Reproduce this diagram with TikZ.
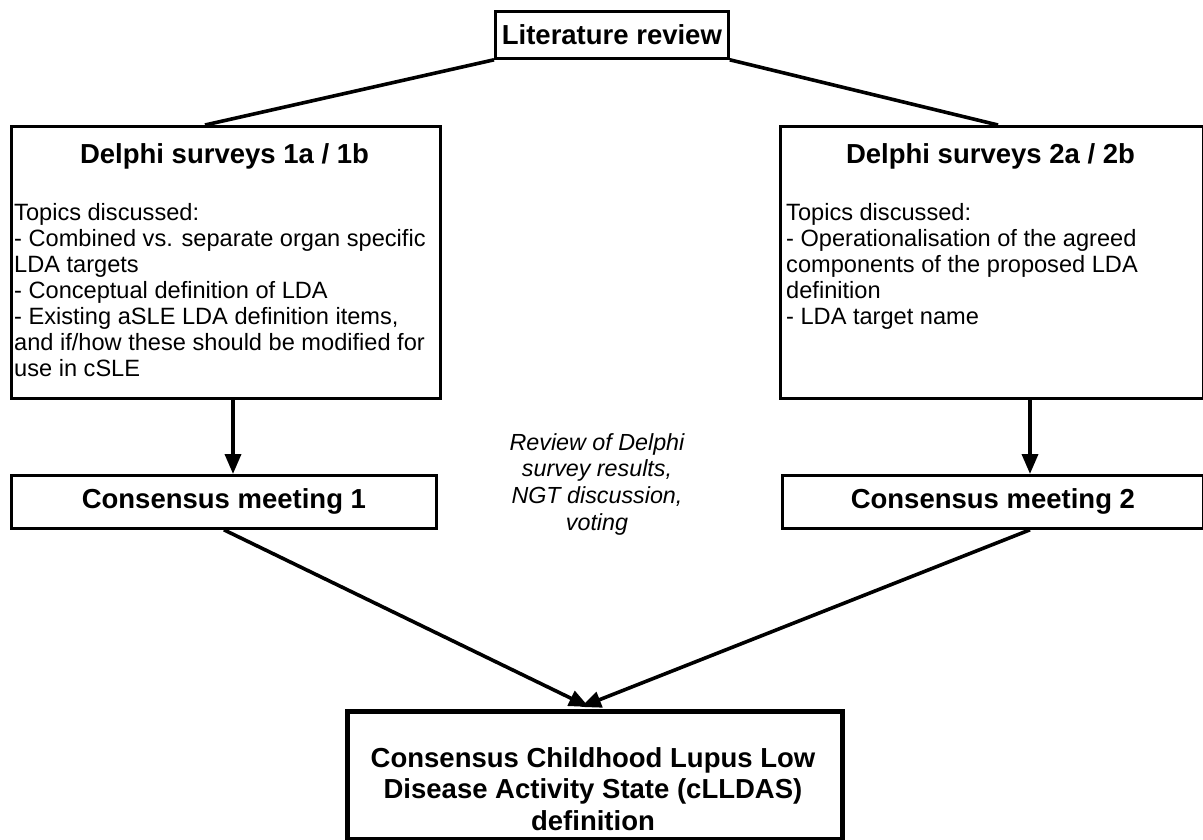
\documentclass[tikz,border=0pt]{standalone}
\usepackage{fontspec}
\setmainfont{Liberation Sans}
\usetikzlibrary{arrows.meta}
\tikzset{
  box/.style={draw, line width=2.8pt, inner sep=0pt},
  bigbox/.style={draw, line width=5pt, inner sep=0pt},
  titletext/.style={font=\fontsize{27.5}{31.8}\selectfont\bfseries, inner sep=0pt},
  bodytext/.style={font=\fontsize{23.6}{26.1}\selectfont, align=left, inner sep=0pt},
  notetext/.style={font=\fontsize{23.3}{26.7}\selectfont\itshape, align=center, inner sep=0pt},
  conn/.style={line width=3.6pt},
  arr/.style={line width=3.6pt, -{Triangle[width=16pt,length=20pt]}}
}
\begin{document}
\begin{tikzpicture}[x=1pt,y=-1pt]
\useasboundingbox (0,0) rectangle (1203,839);
% boxes
\node[box, titletext, minimum width=233, minimum height=47, anchor=north west] (lit) at (494,10) {Literature review};
\node[box, minimum width=429, minimum height=272, anchor=north west] (d1) at (10,125) {};
\node[box, minimum width=423, minimum height=272, anchor=north west] (d2) at (779,125) {};
\node[box, titletext, minimum width=425, minimum height=53, anchor=north west] (cm1) at (10,474) {Consensus meeting 1};
\node[box, titletext, minimum width=421, minimum height=53, anchor=north west] (cm2) at (781,474) {Consensus meeting 2};
\node[bigbox, minimum width=495, minimum height=128, anchor=north west] (fin) at (345,709) {};
% texts
\node[titletext, anchor=base] (d1t) at (224.5,163) {Delphi surveys 1a / 1b};
\node[titletext, anchor=base] (d2t) at (990.5,163) {Delphi surveys 2a / 2b};
\node[bodytext, anchor=north west] (d1b) at (14,203) {Topics discussed:\\
- Combined vs. separate organ specific\\
LDA targets\\
- Conceptual definition of LDA\\
- Existing aSLE LDA definition items,\\
and if/how these should be modified for\\
use in cSLE};
\node[bodytext, anchor=north west] (d2b) at (786,203) {Topics discussed:\\
- Operationalisation of the agreed\\
components of the proposed LDA\\
definition\\
- LDA target name};
\node[notetext, anchor=north] (note) at (597,433) {Review of Delphi\\ survey results,\\ NGT discussion,\\ voting};
\node[titletext, align=center, anchor=north] (fint) at (593,747) {Consensus Childhood Lupus Low\\ Disease Activity State (cLLDAS)\\ definition};
% connectors
\coordinate (f1) at (589,707);
\coordinate (f2) at (581,707);
\coordinate (d1top) at (205,125);
\coordinate (d2top) at (998,125);
\draw[conn] (lit.south west) -- (d1top);
\draw[conn] (lit.south east) -- (d2top);
\draw[arr] (d1.south -| 233,0) -- (cm1.north -| 233,0);
\draw[arr] (d2.south -| 1030,0) -- (cm2.north -| 1030,0);
\draw[arr] (cm1.south) -- (f1);
\draw[arr] (cm2.south -| 1030,0) -- (f2);
\end{tikzpicture}
\end{document}
